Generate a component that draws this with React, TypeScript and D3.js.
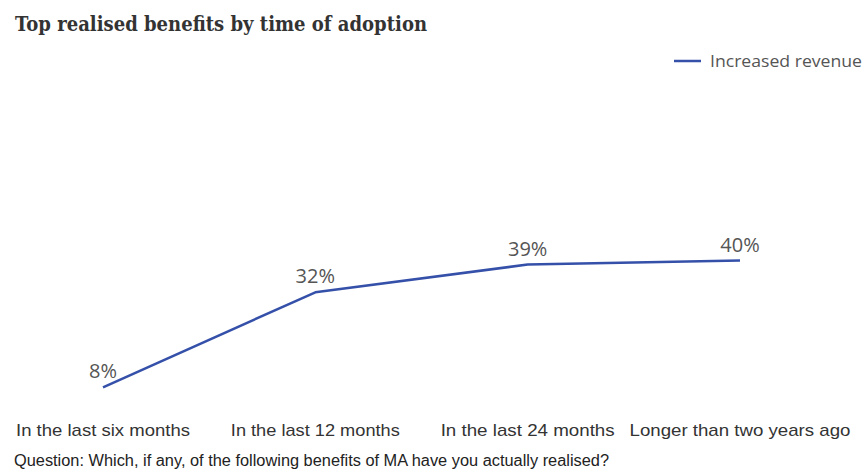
import React from "react";
import * as d3 from "d3";

const categories = [
  "In the last six months",
  "In the last 12 months",
  "In the last 24 months",
  "Longer than two years ago",
];
const increasedRevenue = [8, 32, 39, 40];
const seriesName = "Increased revenue";
const title = "Top realised benefits by time of adoption";
const question = "Question: Which, if any, of the following benefits of MA have you actually realised?";

const W = 867;
const H = 472;

export default function App() {
  const x = d3.scalePoint<string>().domain(categories).range([103, 740]);
  const y = d3.scaleLinear().domain([0, 100]).range([419, 23]);
  const line = d3
    .line<number>()
    .x((_, i) => x(categories[i]) as number)
    .y((d) => y(d));
  const color = "#3550a9";
  const narrow = "'Liberation Sans Narrow', 'Liberation Sans', sans-serif";
  const sans = "'Open Sans', 'Lato', sans-serif";
  const catLen = [174, 169, 174, 221];

  return (
    <svg
      width={W}
      height={H}
      style={{ position: "absolute", left: 0, top: 0, background: "#fff" }}
    >
      <text
        x={15}
        y={31}
        fontFamily="'DejaVu Serif', 'Liberation Serif', serif"
        fontWeight="bold"
        fontSize={21}
        fill="#333"
        textLength={412}
        lengthAdjust="spacingAndGlyphs"
      >
        {title}
      </text>

      <line x1={674} x2={701} y1={61} y2={61} stroke={color} strokeWidth={2.5} />
      <text
        x={710}
        y={67}
        fontFamily={sans}
        fontSize={16}
        fill="#555"
        textLength={152}
        lengthAdjust="spacingAndGlyphs"
      >
        {seriesName}
      </text>

      <path
        d={line(increasedRevenue) ?? ""}
        fill="none"
        stroke={color}
        strokeWidth={2.5}
        strokeLinejoin="round"
      />

      {increasedRevenue.map((v, i) => (
        <text
          key={i}
          x={x(categories[i])}
          y={y(v) - 9}
          textAnchor="middle"
          fontFamily={sans}
          fontSize={20}
          fill="#555"
        >
          {v}%
        </text>
      ))}

      {categories.map((c, i) => (
        <text
          key={c}
          x={(x(c) as number) - catLen[i] / 2}
          y={436}
          fontFamily={narrow}
          fontSize={17}
          fill="#333"
          textLength={catLen[i]}
          lengthAdjust="spacingAndGlyphs"
        >
          {c}
        </text>
      ))}

      <text
        x={14}
        y={466}
        fontFamily={narrow}
        fontSize={16}
        fill="#222"
        textLength={595}
        lengthAdjust="spacingAndGlyphs"
      >
        {question}
      </text>
    </svg>
  );
}
